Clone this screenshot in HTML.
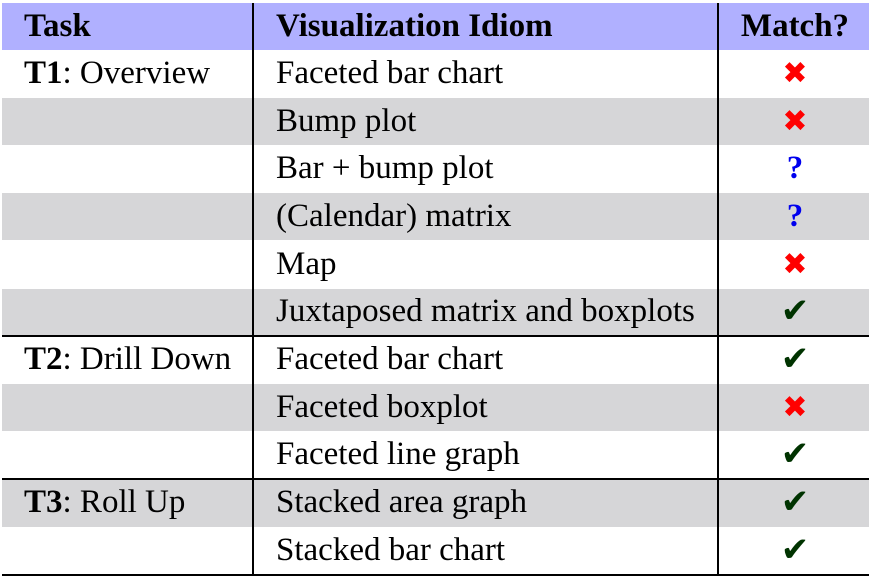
<!DOCTYPE html>
<html><head><meta charset="utf-8"><style>
body{margin:0;width:879px;height:579px;background:#fff;position:relative;overflow:hidden;font-family:"Liberation Serif",serif;font-size:33px;color:#000}
.bg{position:absolute;left:2px;width:867px}
.t{position:absolute;line-height:47px;height:47px;white-space:nowrap}
.c1{left:24px}.c2{left:276px}.c3{left:720px;width:150px;text-align:center}
.x{color:#f00;font-family:"DejaVu Sans",sans-serif;font-size:30px}
.q{color:#0000ee;font-weight:bold;font-size:33px}
.k{color:#003300;font-family:"DejaVu Sans",sans-serif;font-size:34px}
.h{position:absolute;left:2px;width:867px;background:#000}
.v{position:absolute;top:3px;height:573px;width:2px;background:#000}
</style></head><body>
<div class="bg" style="top:3px;height:47px;background:#b0b0ff"></div>
<div class="bg" style="top:98px;height:47px;background:#d6d6d8"></div>
<div class="bg" style="top:193px;height:47px;background:#d6d6d8"></div>
<div class="bg" style="top:289px;height:47px;background:#d6d6d8"></div>
<div class="bg" style="top:384px;height:47px;background:#d6d6d8"></div>
<div class="bg" style="top:480px;height:47px;background:#d6d6d8"></div>
<div class="h" style="top:335px;height:1.5px"></div>
<div class="h" style="top:478px;height:1.5px"></div>
<div class="h" style="top:574px;height:2px"></div>
<div class="v" style="left:252px"></div>
<div class="v" style="left:717px"></div>

<div class="t c1" style="top:3px;font-weight:bold">Task</div>
<div class="t c2" style="top:3px;font-weight:bold">Visualization Idiom</div>
<div class="t c3" style="top:3px;font-weight:bold">Match?</div>

<div class="t c1" style="top:50px"><b>T1</b>: Overview</div>
<div class="t c1" style="top:336px"><b>T2</b>: Drill Down</div>
<div class="t c1" style="top:479px"><b>T3</b>: Roll Up</div>

<div class="t c2" style="top:50px">Faceted bar chart</div>
<div class="t c2" style="top:98px">Bump plot</div>
<div class="t c2" style="top:145px">Bar + bump plot</div>
<div class="t c2" style="top:193px">(Calendar) matrix</div>
<div class="t c2" style="top:241px">Map</div>
<div class="t c2" style="top:288px">Juxtaposed matrix and boxplots</div>
<div class="t c2" style="top:336px">Faceted bar chart</div>
<div class="t c2" style="top:384px">Faceted boxplot</div>
<div class="t c2" style="top:431px">Faceted line graph</div>
<div class="t c2" style="top:479px">Stacked area graph</div>
<div class="t c2" style="top:527px">Stacked bar chart</div>

<div class="t c3 x" style="top:50px">✖</div>
<div class="t c3 x" style="top:98px">✖</div>
<div class="t c3 q" style="top:145px">?</div>
<div class="t c3 q" style="top:193px">?</div>
<div class="t c3 x" style="top:241px">✖</div>
<div class="t c3 k" style="top:288px">✔</div>
<div class="t c3 k" style="top:336px">✔</div>
<div class="t c3 x" style="top:384px">✖</div>
<div class="t c3 k" style="top:431px">✔</div>
<div class="t c3 k" style="top:479px">✔</div>
<div class="t c3 k" style="top:527px">✔</div>
</body></html>
